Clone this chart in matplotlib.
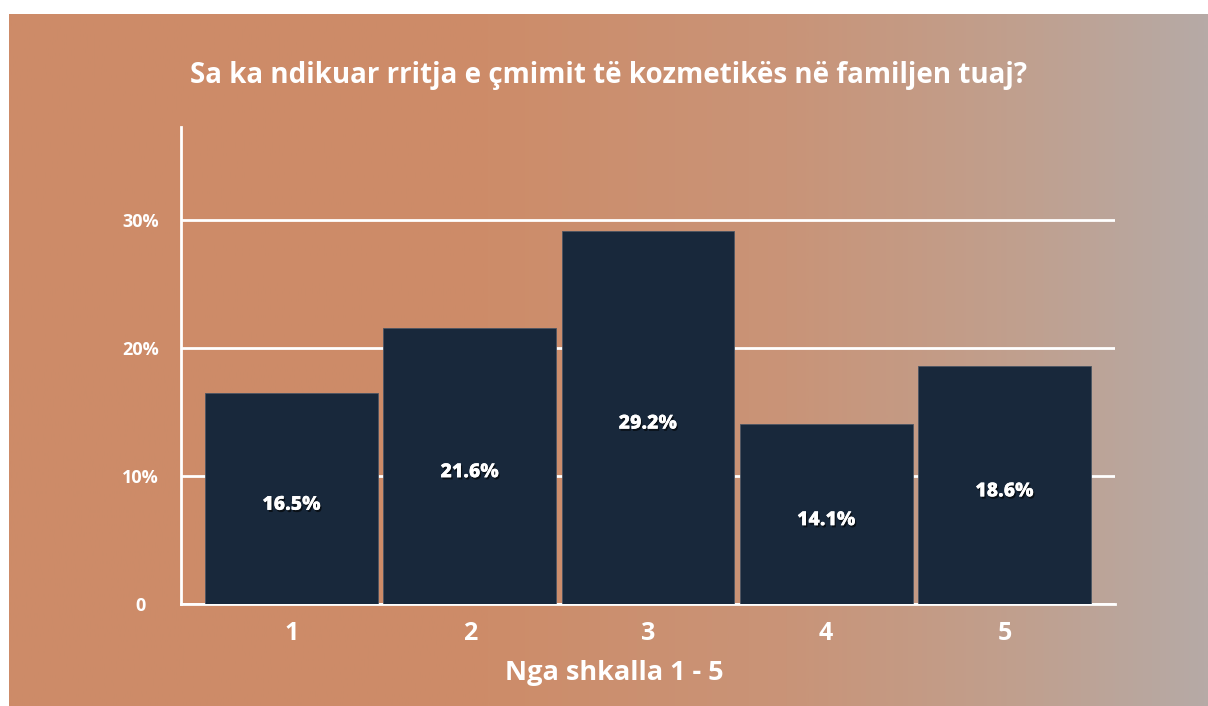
import matplotlib.pyplot as plt
import matplotlib.patheffects as pe
from matplotlib.colors import LinearSegmentedColormap
import numpy as np

categories = ['1', '2', '3', '4', '5']
values = [16.5, 21.6, 29.2, 14.1, 18.6]
value_labels = ['16.5%', '21.6%', '29.2%', '14.1%', '18.6%']
ytick_vals = [0, 10, 20, 30]
ytick_labels = ['0', '10%', '20%', '30%']

plt.rcParams['font.family'] = ['Open Sans', 'DejaVu Sans']

W, H = 1208, 706
fig = plt.figure(figsize=(W / 100, H / 100), dpi=100, facecolor='white')

# gradient background (white strip on top and left)
bg = fig.add_axes([9 / W, 0, 1 - 9 / W, 1 - 14 / H])
bg.set_axis_off()
cmap = LinearSegmentedColormap.from_list('bg', [
    (0.0, '#CD8B68'), (0.40, '#CD8C69'), (0.65, '#C99478'),
    (0.85, '#C0A08F'), (1.0, '#B6AAA6')])
grad = np.linspace(0, 1, 512).reshape(1, -1)
bg.imshow(grad, aspect='auto', cmap=cmap, extent=[0, 1, 0, 1])

ax = fig.add_axes([181 / W, 102 / H, 934 / W, 477 / H])
ax.patch.set_alpha(0)
x = np.arange(1, len(categories) + 1)
bars = ax.bar(x, values, width=0.97, color='#18283B', edgecolor='#4b5563',
              linewidth=0.6, zorder=3)

for xi, v, lab in zip(x, values, value_labels):
    ax.text(xi, v / 2 - 0.5, lab, ha='center', va='center', color='white',
            fontsize=14, fontweight='heavy', zorder=4,
            path_effects=[pe.withSimplePatchShadow(offset=(1, -1.5),
                                                   shadow_rgbFace='black',
                                                   alpha=0.6),
                          pe.Normal()])

ax.set_xlim(0.38, 5.62)
ax.set_ylim(0, 37.3)
ax.set_xticks(x)
ax.set_xticklabels(categories)
ax.set_yticks(ytick_vals)
ax.set_yticklabels(ytick_labels)
for t in ax.get_yticklabels():
    t.set_horizontalalignment('center')

ax.tick_params(axis='x', length=0, pad=12, labelsize=18, labelcolor='white')
ax.tick_params(axis='y', length=0, pad=29, labelsize=13, labelcolor='white')
for t in ax.get_xticklabels() + ax.get_yticklabels():
    t.set_fontweight('bold')

ax.yaxis.grid(True, color='white', linewidth=2, zorder=0)
ax.set_axisbelow(True)
for s in ['top', 'right']:
    ax.spines[s].set_visible(False)
for s in ['left', 'bottom']:
    ax.spines[s].set_color('white')
    ax.spines[s].set_linewidth(2)

ax.set_xlabel('Nga shkalla 1 - 5', color='white', fontsize=19.5,
              fontweight='bold', labelpad=10)
ax.xaxis.label.set_x((614 - 181) / 934)

fig.text(608 / W, 1 - 75 / H, 'Sa ka ndikuar rritja e çmimit të kozmetikës në familjen tuaj?',
         ha='center', va='center', color='white', fontsize=20, fontweight='bold')

fig.savefig('out.png', dpi=100, facecolor='white')
